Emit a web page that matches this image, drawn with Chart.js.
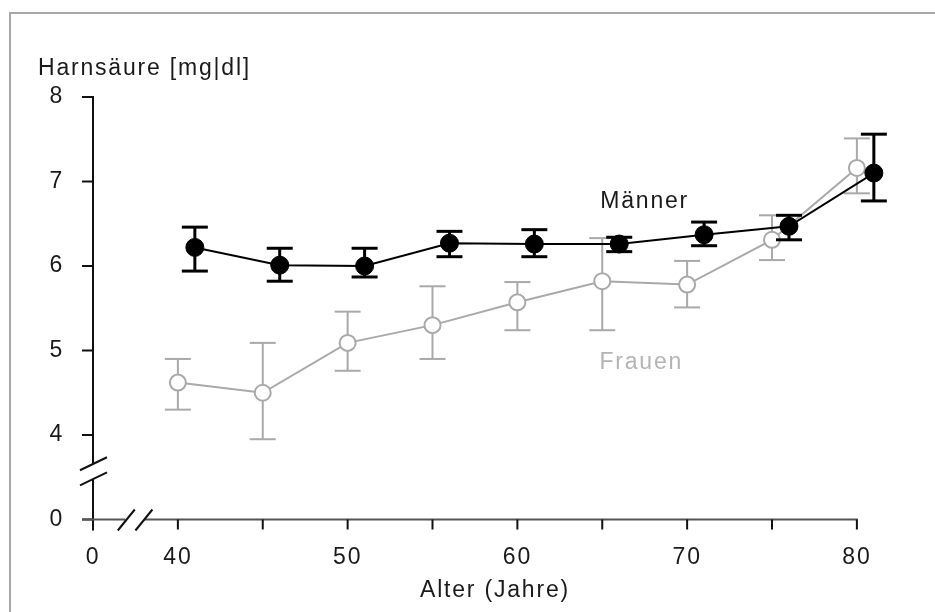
<!DOCTYPE html>
<html lang="de">
<head>
<meta charset="utf-8">
<title>Harnsäure nach Alter</title>
<script src="https://cdn.jsdelivr.net/npm/chart.js@4.4.1/dist/chart.umd.min.js"></script>
<style>
  html, body { margin: 0; padding: 0; background: #fff; }
  canvas { display: block; }
</style>
</head>
<body>
<canvas id="uricChart" width="935" height="612"></canvas>
<script>
// ===== Data =====
const ageMen = [41, 46, 51, 56, 61, 66, 71, 76, 81];
const meanMen = [6.22, 6.01, 6.00, 6.27, 6.26, 6.26, 6.37, 6.47, 7.10];
const lowMen = [5.94, 5.82, 5.87, 6.11, 6.11, 6.17, 6.24, 6.31, 6.77];
const highMen = [6.46, 6.21, 6.21, 6.41, 6.43, 6.34, 6.52, 6.60, 7.56];

const ageWomen = [40, 45, 50, 55, 60, 65, 70, 75, 80];
const meanWomen = [4.62, 4.50, 5.09, 5.30, 5.57, 5.82, 5.78, 6.31, 7.16];
const lowWomen = [4.30, 3.95, 4.76, 4.90, 5.24, 5.24, 5.51, 6.07, 6.86];
const highWomen = [4.90, 5.09, 5.46, 5.76, 5.81, 6.33, 6.06, 6.60, 7.51];

// axis breaks: value 3 on y and 35 on x stand for the "0" before the break
const yTicks = [3, 4, 5, 6, 7, 8];
const yTickLabels = ['0', '4', '5', '6', '7', '8'];
const xTicks = [35, 40, 45, 50, 55, 60, 65, 70, 75, 80];
const xTickLabels = ['0', '40', '', '50', '', '60', '', '70', '', '80'];

const FONT = "'Liberation Sans', Arial, Helvetica, sans-serif";
const SPACING = '1.8px';
Chart.defaults.font.family = FONT;
Chart.defaults.font.size = 23;
Chart.defaults.color = '#1a1a1a';

const errorRanges = [
  { low: lowMen, high: highMen, width: 3 },
  { low: lowWomen, high: highWomen, width: 2 }
];

const toPoints = (xs, ys) => xs.map((x, i) => ({ x, y: ys[i] }));

function line(ctx, x1, y1, x2, y2) {
  ctx.beginPath();
  ctx.moveTo(x1, y1);
  ctx.lineTo(x2, y2);
  ctx.stroke();
}

// ===== Frame + letter spacing =====
const frame = {
  id: 'frame',
  beforeDraw(chart) {
    const ctx = chart.ctx;
    ctx.save();
    ctx.fillStyle = '#fff';
    ctx.fillRect(0, 0, chart.width, chart.height);
    ctx.strokeStyle = '#a8a8a8';
    ctx.lineWidth = 2;
    ctx.strokeRect(10, 13, chart.width + 20, chart.height + 20);
    ctx.restore();
    ctx.letterSpacing = SPACING;
  }
};

// ===== Broken axes =====
const brokenAxes = {
  id: 'brokenAxes',
  beforeDatasetsDraw(chart) {
    const { ctx, scales: { x, y } } = chart;
    const x0 = x.getPixelForValue(35);
    const y0 = y.getPixelForValue(3);
    ctx.save();
    ctx.lineWidth = 2;

    // y axis
    ctx.strokeStyle = '#111';
    line(ctx, x0, y.getPixelForValue(8) - 1, x0, y.getPixelForValue(3.66));
    line(ctx, x0, y.getPixelForValue(3.48), x0, y0 + 11);
    yTicks.forEach(v => {
      const p = y.getPixelForValue(v);
      line(ctx, x0 - 11, p, x0, p);
    });
    [3.66, 3.48].forEach(v => {
      const p = y.getPixelForValue(v);
      line(ctx, x0 - 13, p + 6.5, x0 + 14, p - 6.5);
    });

    // x axis
    ctx.strokeStyle = '#555';
    line(ctx, x0 - 11, y0, x.getPixelForValue(36.9), y0);
    line(ctx, x.getPixelForValue(38.0), y0, x.getPixelForValue(80) + 1, y0);
    ctx.strokeStyle = '#111';
    xTicks.slice(1).forEach(v => {
      const p = x.getPixelForValue(v);
      line(ctx, p, y0, p, y0 + 10);
    });
    [36.96, 38.0].forEach(v => {
      const p = x.getPixelForValue(v);
      line(ctx, p - 8.5, y0 + 11, p + 8.5, y0 - 10);
    });
    ctx.restore();
  }
};

// ===== Error bars (drawn just before each dataset) =====
const errorBars = {
  id: 'errorBars',
  beforeDatasetDraw(chart, args) {
    const { ctx, scales: { x, y } } = chart;
    const ds = chart.data.datasets[args.index];
    const range = errorRanges[args.index];
    ctx.save();
    ctx.strokeStyle = ds.borderColor;
    ctx.lineWidth = range.width;
    ds.data.forEach((pt, i) => {
      const px = x.getPixelForValue(pt.x);
      const top = y.getPixelForValue(range.high[i]);
      const bot = y.getPixelForValue(range.low[i]);
      line(ctx, px, top, px, bot);
      line(ctx, px - 13, top, px + 13, top);
      line(ctx, px - 13, bot, px + 13, bot);
    });
    ctx.restore();
  }
};

// ===== Text: series names and axis titles =====
const labels = {
  id: 'labels',
  afterDraw(chart) {
    const { ctx, scales: { x, y } } = chart;
    ctx.save();
    ctx.letterSpacing = SPACING;
    ctx.font = `23px ${FONT}`;
    ctx.textBaseline = 'middle';
    ctx.textAlign = 'center';
    ctx.fillStyle = '#1a1a1a';
    ctx.fillText('Männer', x.getPixelForValue(67.5), y.getPixelForValue(6.76));
    ctx.fillStyle = '#b4b4b4';
    ctx.fillText('Frauen', x.getPixelForValue(67.3), y.getPixelForValue(4.86));

    ctx.textBaseline = 'alphabetic';
    ctx.fillStyle = '#1a1a1a';
    ctx.textAlign = 'left';
    ctx.fillText('Harnsäure [mg|dl]', 38, 75);
    ctx.textAlign = 'center';
    ctx.fillText('Alter (Jahre)', 495, 597);
    ctx.restore();
  }
};

new Chart(document.getElementById('uricChart'), {
  type: 'line',
  data: {
    datasets: [
      {
        label: 'Männer',
        data: toPoints(ageMen, meanMen),
        borderColor: '#000',
        borderWidth: 2,
        pointRadius: 9,
        pointBackgroundColor: '#000',
        pointBorderColor: '#000',
        pointBorderWidth: 1,
        tension: 0,
        clip: false
      },
      {
        label: 'Frauen',
        data: toPoints(ageWomen, meanWomen),
        borderColor: '#a9a9a9',
        borderWidth: 2,
        pointRadius: 8,
        pointBackgroundColor: '#fff',
        pointBorderColor: '#a9a9a9',
        pointBorderWidth: 2,
        tension: 0,
        clip: false
      }
    ]
  },
  options: {
    responsive: false,
    animation: false,
    layout: { padding: { top: 71.65, right: 27.2, left: 0, bottom: 0 } },
    plugins: {
      legend: { display: false },
      tooltip: { enabled: false }
    },
    scales: {
      x: {
        type: 'linear',
        min: 35,
        max: 83,
        grid: { display: false, drawTicks: false },
        border: { display: false },
        afterFit: s => { s.height = 92.5; },
        afterBuildTicks: s => { s.ticks = xTicks.map(v => ({ value: v })); },
        ticks: {
          autoSkip: false,
          maxRotation: 0,
          padding: 24,
          callback: (v, i) => xTickLabels[i]
        }
      },
      y: {
        type: 'linear',
        min: 3,
        max: 8.3,
        grid: { display: false, drawTicks: false },
        border: { display: false },
        afterFit: s => { s.width = 93; },
        afterBuildTicks: s => { s.ticks = yTicks.map(v => ({ value: v })); },
        ticks: {
          autoSkip: false,
          padding: 29,
          callback: (v, i) => yTickLabels[i]
        }
      }
    }
  },
  plugins: [frame, brokenAxes, errorBars, labels]
});
</script>
</body>
</html>
